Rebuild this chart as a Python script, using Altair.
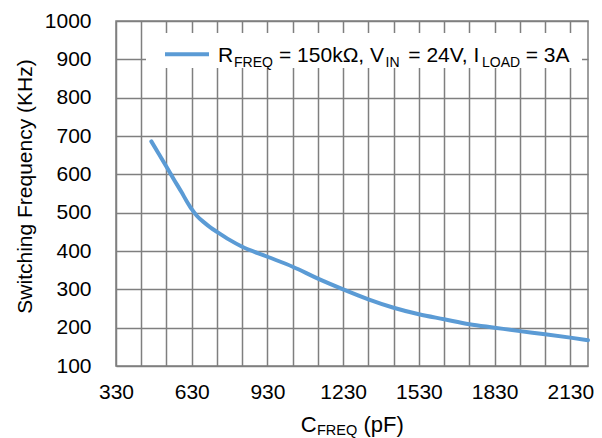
import altair as alt
import pandas as pd

# Switching frequency vs. C_FREQ (R_FREQ = 150k, VIN = 24V, ILOAD = 3A)
c_freq_pf = [470, 500, 530, 560, 590, 610, 630, 650, 680, 705, 730, 780, 830, 930,
             1030, 1130, 1230, 1330, 1430, 1530, 1630, 1730, 1830, 1930, 2030, 2130, 2200]
f_sw_khz = [686, 653, 620, 586, 553, 530, 509, 492, 474, 461, 450, 429, 411, 385,
            359, 328, 300, 274, 252, 235, 222, 209, 200, 191, 183, 174, 167]

x_grid = list(range(330, 2131, 100))
y_ticks = list(range(100, 1001, 100))

FONT = "Liberation Sans"
GRID = "#7f7f7f"
BLUE = "#5B9BD5"
W, H = 472, 345

df = pd.DataFrame({"c": c_freq_pf, "f": f_sw_khz})

curve = alt.Chart(df).mark_line(
    color=BLUE, strokeWidth=4, interpolate="monotone", strokeCap="round"
).encode(
    x=alt.X(
        "c:Q",
        scale=alt.Scale(domain=[330, 2200], nice=False, zero=False),
        axis=alt.Axis(
            values=x_grid, format="d", title=None,
            labelExpr="(datum.value - 330) % 300 == 0 ? datum.label : ''",
            grid=True, gridColor=GRID, gridWidth=1.5,
            ticks=False, tickSize=0, domain=False,
            labelFont=FONT, labelFontSize=21, labelColor="#000000",
            labelPadding=15, labelOverlap=False, labelBound=False, labelFlush=False,
        ),
    ),
    y=alt.Y(
        "f:Q",
        scale=alt.Scale(domain=[100, 1000], nice=False, zero=False),
        axis=alt.Axis(
            values=y_ticks, format="d",
            title="Switching Frequency (KHz)",
            titleFont=FONT, titleFontSize=21, titleFontWeight="normal",
            titleColor="#000000", titleAngle=270, titleAlign="center",
            titleBaseline="alphabetic", titleX=-85, titleY=165,
            grid=True, gridColor=GRID, gridWidth=1.5,
            ticks=False, tickSize=0, domain=False,
            labelFont=FONT, labelFontSize=21, labelColor="#000000",
            labelPadding=25, labelOverlap=False, labelBound=False, labelFlush=False,
        ),
    ),
)

one_row = alt.Data(values=[{}])


def note(text, x, y, size):
    return alt.Chart(one_row).mark_text(
        text=text, font=FONT, fontSize=size, color="#000000",
        align="left", baseline="alphabetic",
    ).encode(x=alt.value(x), y=alt.value(y))


# legend box (white background over the grid) with its line sample
legend_box = alt.Chart(one_row).mark_rect(color="white").encode(
    x=alt.value(30), x2=alt.value(466), y=alt.value(12), y2=alt.value(47)
)
legend_line = alt.Chart(one_row).mark_rule(color=BLUE, strokeWidth=4).encode(
    x=alt.value(49), x2=alt.value(93), y=alt.value(33.3)
)

MAIN, SUB = 21, 14
LB, SB = 40.7, 45.7
legend_text = [
    note("R", 102, LB, MAIN),
    note("FREQ", 118, SB, SUB),
    note("= 150kΩ, V", 163, LB, MAIN),
    note("IN", 269.5, SB, SUB),
    note("= 24V, I", 292.3, LB, MAIN),
    note("LOAD", 366, SB, SUB),
    note("= 3A", 409.7, LB, MAIN),
]

# x-axis title with subscript
x_title = [
    note("C", 184.7, 410.7, 22),
    note("FREQ", 201, 414, 14.5),
    note("(pF)", 247.5, 410.7, 22),
]

chart = alt.layer(
    curve, legend_box, legend_line, *legend_text, *x_title
).properties(
    width=W, height=H,
    autosize=alt.AutoSizeParams(type="none"),
    padding={"left": 116, "top": 21, "right": 14, "bottom": 72},
    background="white",
).configure_view(
    stroke=GRID, strokeWidth=1.5
)

chart.save("out.html", embed_options={"renderer": "svg", "actions": False})
